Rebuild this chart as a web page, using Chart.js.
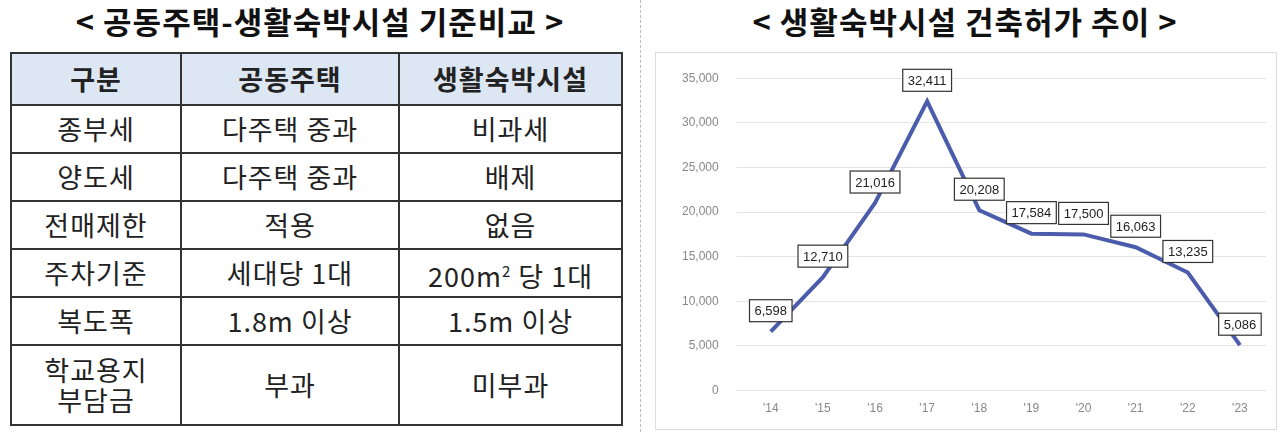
<!DOCTYPE html>
<html><head><meta charset="utf-8">
<script src="https://cdn.jsdelivr.net/npm/chart.js@4"></script>
<style>
body{margin:0;width:1280px;height:432px;background:#fff;font-family:"Noto Sans CJK KR",sans-serif;position:relative;overflow:hidden}
.t{position:absolute;top:-1px;font-weight:bold;font-size:31px;color:#111;text-align:center;line-height:44px;letter-spacing:1px}
table{position:absolute;left:10px;top:52px;width:613px;border-collapse:collapse;font-size:27px;color:#222;letter-spacing:1px}
td,th{border:2px solid #333;text-align:center;padding:0;line-height:30px}
th{background:#dde7f3;font-weight:bold;height:50px}
td{height:46px}
#div{position:absolute;left:640px;top:0;height:432px;border-left:1px dashed #bbb}
#box{position:absolute;left:655px;top:52px;width:620px;height:376px;border:1px solid #ddd}
</style></head><body>
<div class="t" style="left:0;width:640px">&lt; 공동주택-생활숙박시설 기준비교 &gt;</div>
<div class="t" style="left:655px;width:620px">&lt; 생활숙박시설 건축허가 추이 &gt;</div>
<table>
<tr><th style="width:168px">구분</th><th style="width:216px">공동주택</th><th>생활숙박시설</th></tr>
<tr><td>종부세</td><td>다주택 중과</td><td>비과세</td></tr>
<tr><td>양도세</td><td>다주택 중과</td><td>배제</td></tr>
<tr><td>전매제한</td><td>적용</td><td>없음</td></tr>
<tr><td>주차기준</td><td>세대당 1대</td><td>200m<sup style="font-size:15px">2</sup> 당 1대</td></tr>
<tr><td>복도폭</td><td>1.8m 이상</td><td>1.5m 이상</td></tr>
<tr><td style="height:78px">학교용지<br>부담금</td><td>부과</td><td>미부과</td></tr>
</table>
<div id="div"></div>
<div id="box"><canvas id="c" width="620" height="376"></canvas></div>
<script>
const years=["'14","'15","'16","'17","'18","'19","'20","'21","'22","'23"];
const permits=[6598,12710,21016,32411,20208,17584,17500,16063,13235,5086];
const labelPlugin={id:'lbl',afterDatasetsDraw(ch){
  const ctx=ch.ctx;const meta=ch.getDatasetMeta(0);
  ctx.save();ctx.font='13px "Liberation Sans",sans-serif';ctx.textAlign='center';ctx.textBaseline='middle';
  meta.data.forEach((p,i)=>{
    const s=permits[i].toLocaleString('en-US');const w=ctx.measureText(s).width+10,h=22;
    const x=p.x,y=p.y-21;
    ctx.fillStyle='#fff';ctx.fillRect(x-w/2,y-h/2,w,h);
    ctx.strokeStyle='#333';ctx.lineWidth=1.2;ctx.strokeRect(x-w/2,y-h/2,w,h);
    ctx.fillStyle='#222';ctx.fillText(s,x,y+1);
  });ctx.restore();}};
new Chart(document.getElementById('c'),{type:'line',
 data:{labels:years,datasets:[{data:permits,borderColor:'#4a5cab',borderWidth:4,pointRadius:0,tension:0}]},
 options:{responsive:false,animation:false,layout:{padding:{top:12,right:10,left:8,bottom:10}},
  plugins:{legend:{display:false},tooltip:{enabled:false}},
  scales:{x:{offset:true,grid:{display:false},border:{display:false},ticks:{color:'#888',font:{size:12}}},
   y:{min:0,max:35000,ticks:{stepSize:5000,color:'#888',font:{size:12},callback:v=>v.toLocaleString('en-US'),padding:18},
      grid:{color:'#e4e4e4'},border:{display:false}}}},
 plugins:[labelPlugin]});
</script></body></html>
